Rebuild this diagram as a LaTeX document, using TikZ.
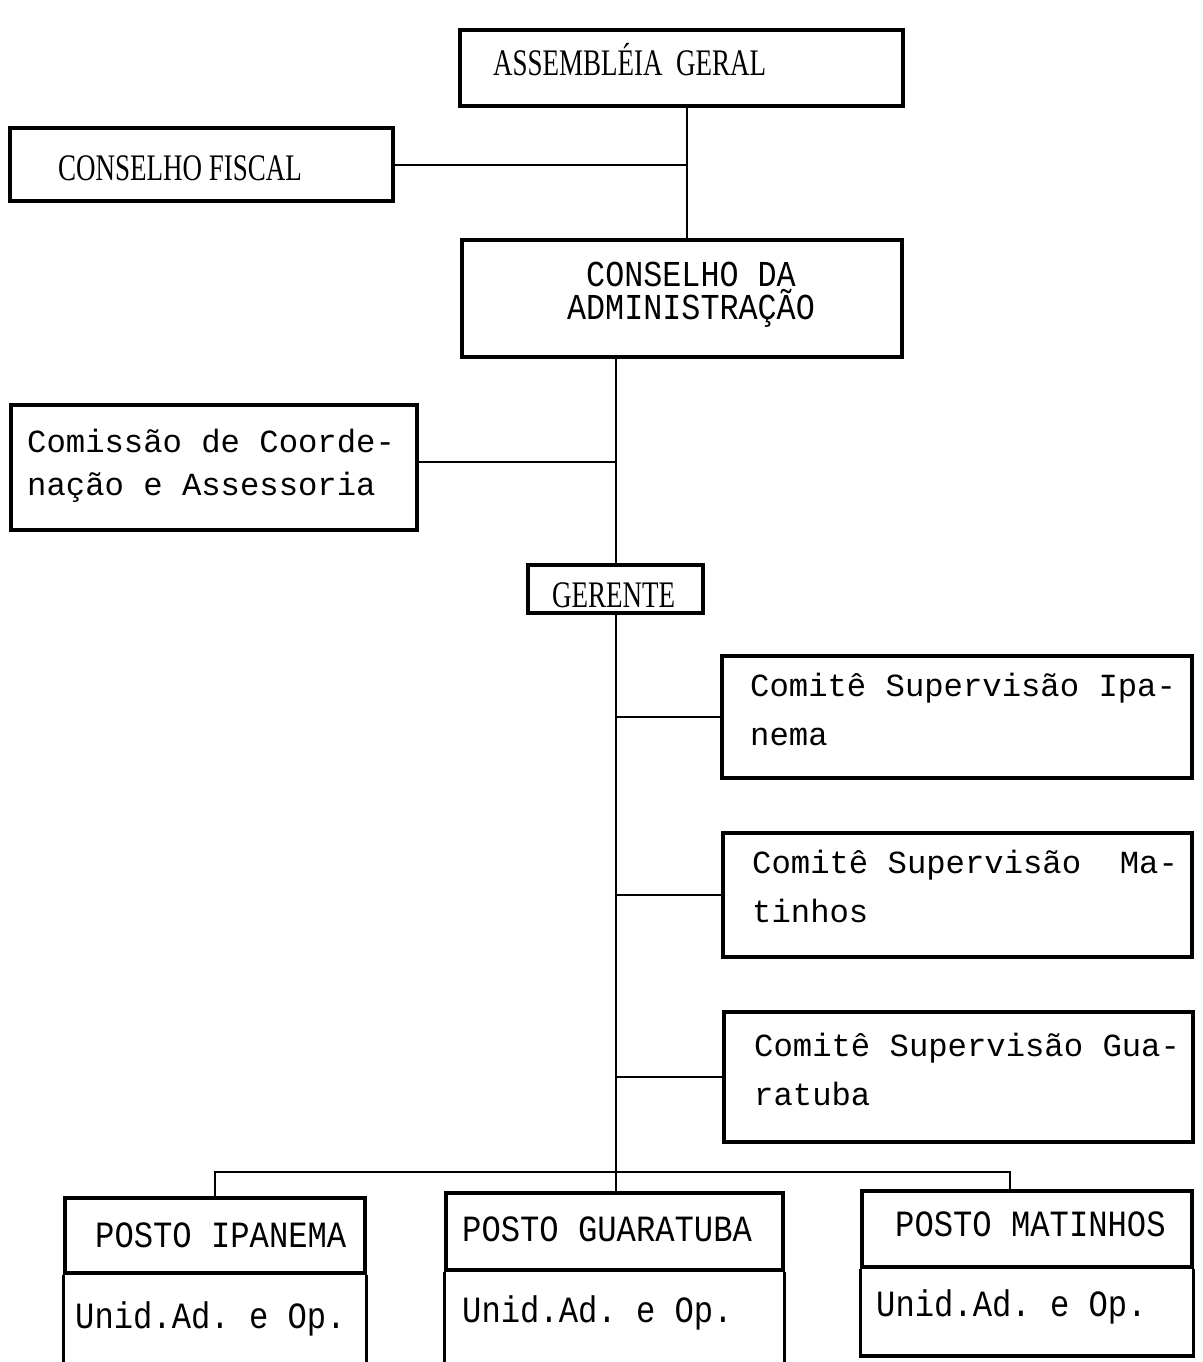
\documentclass[tikz,border=0pt]{standalone}
\usepackage{fontspec}
\setmainfont{Liberation Serif}
% typewriter faces used on the chart (fixed word spaces, one cell wide)
\newfontfamily\typeA[WordSpace={1,0,0}]{Liberation Mono}
\newfontfamily\typeB[FakeStretch=0.87, WordSpace={1,0,0}]{Liberation Mono}
\newfontfamily\typeC[FakeStretch=0.72]{Liberation Serif}

\tikzset{
  box/.style={draw, line width=3.2pt, rectangle, inner sep=0pt, anchor=center},
  conn/.style={draw, line width=2pt},
  side/.style={draw, line width=3.2pt},
  txtA/.style={inner sep=0pt, anchor=base west, text width=480pt, align=flush left,
               font=\typeA\frenchspacing\fontsize{32.25}{49}\selectfont},
  txtB/.style={inner sep=0pt, anchor=base west,
               font=\typeB\frenchspacing\fontsize{37}{31}\selectfont},
  txtC/.style={inner sep=0pt, anchor=base west,
               font=\typeC\fontsize{37.5}{40}\selectfont},
}

\begin{document}
\begin{tikzpicture}[x=1pt, y=-1pt]
\fill[white] (0,0) rectangle (1202,1362);
\useasboundingbox (0,0) rectangle (1202,1362);

% ---- boxes ----
\node[box, minimum width=443pt, minimum height=76pt]  (ag) at (681.5,68)   {};
\node[box, minimum width=383pt, minimum height=73pt]  (cf) at (201.5,164.5) {};
\node[box, minimum width=440pt, minimum height=117pt] (ca) at (682,298.5)  {};
\node[box, minimum width=406pt, minimum height=125pt] (cc) at (214,467.5)  {};
\node[box, minimum width=175pt, minimum height=48pt]  (ge) at (615.5,589)  {};
\node[box, minimum width=470pt, minimum height=122pt] (si) at (957,717)    {};
\node[box, minimum width=469pt, minimum height=124pt] (sm) at (957.5,895)  {};
\node[box, minimum width=469pt, minimum height=130pt] (sg) at (958.5,1077) {};

% posto headers (the divider line is their lower edge)
\node[box, minimum width=300pt, minimum height=75pt] (pi) at (215,1235.5)   {};
\node[box, minimum width=337pt, minimum height=77pt] (pg) at (614.5,1231.5) {};
\node[box, minimum width=330pt, minimum height=76pt] (pm) at (1027,1229)    {};

% posto lower parts
\coordinate (pmb) at (0,1356);
\draw[side] (pi.south west) -- ++(0,100);
\draw[side] (pi.south east) -- ++(0,100);
\draw[side] (pg.south west) -- ++(0,100);
\draw[side] (pg.south east) -- ++(0,100);
\draw[side] (pm.south west) -- (pm.south west |- pmb) -- (pm.south east |- pmb) -- (pm.south east);

% ---- texts ----
\node[txtC] (ag-t) at (493,76)  {ASSEMBLÉIA\ \ GERAL};
\node[txtC] (cf-t) at (58,180)  {CONSELHO FISCAL};
\node[txtB, anchor=base, text width=300pt, align=flush center,
      font=\typeB\frenchspacing\fontsize{36.5}{33}\selectfont] (ca-t) at (691,286)
  {CONSELHO DA\\ADMINISTRAÇÃO};
\node[txtA, font=\typeA\frenchspacing\fontsize{32.25}{43}\selectfont] (cc-t) at (27,452)
  {Comissão de Coorde-\\nação e Assessoria};
\node[txtC] (ge-t) at (552,607) {GERENTE};
\node[txtA] (si-t) at (750,696)  {Comitê Supervisão Ipa-\\nema};
\node[txtA] (sm-t) at (752,873)  {Comitê Supervisão\ \ Ma-\\tinhos};
\node[txtA] (sg-t) at (754,1056) {Comitê Supervisão Gua-\\ratuba};

\node[txtB] (pi-t) at (95,1247)  {POSTO IPANEMA};
\node[txtB] (pi-u) at (75,1328)  {Unid.Ad. e Op.};
\node[txtB] (pg-t) at (462,1241) {POSTO GUARATUBA};
\node[txtB] (pg-u) at (462,1322) {Unid.Ad. e Op.};
\node[txtB] (pm-t) at (895,1236) {POSTO MATINHOS};
\node[txtB] (pm-u) at (876,1316) {Unid.Ad. e Op.};

% ---- connectors ----
\coordinate (t1) at (687,0);
\coordinate (cclink) at (0,462);
\coordinate (busR) at (1010,1172);
\draw[conn] (ag.south -| t1) -- (ca.north -| t1);
\draw[conn] (cf.east) -- (cf.east -| t1);
\draw[conn] (ca.south -| ge.north) -- (ge.north);
\draw[conn] (cc.east |- cclink) -- (ge.north |- cclink);
\draw[conn] (ge.south) -- (ge.south |- pg.north);
\draw[conn] (si.west -| ge.south) -- (si.west);
\draw[conn] (sm.west -| ge.south) -- (sm.west);
\draw[conn] (sg.west -| ge.south) -- (sg.west);
\draw[conn] (pi.north) -- (pi.north |- busR) -- (busR) -- (busR |- pm.north);
\end{tikzpicture}
\end{document}
